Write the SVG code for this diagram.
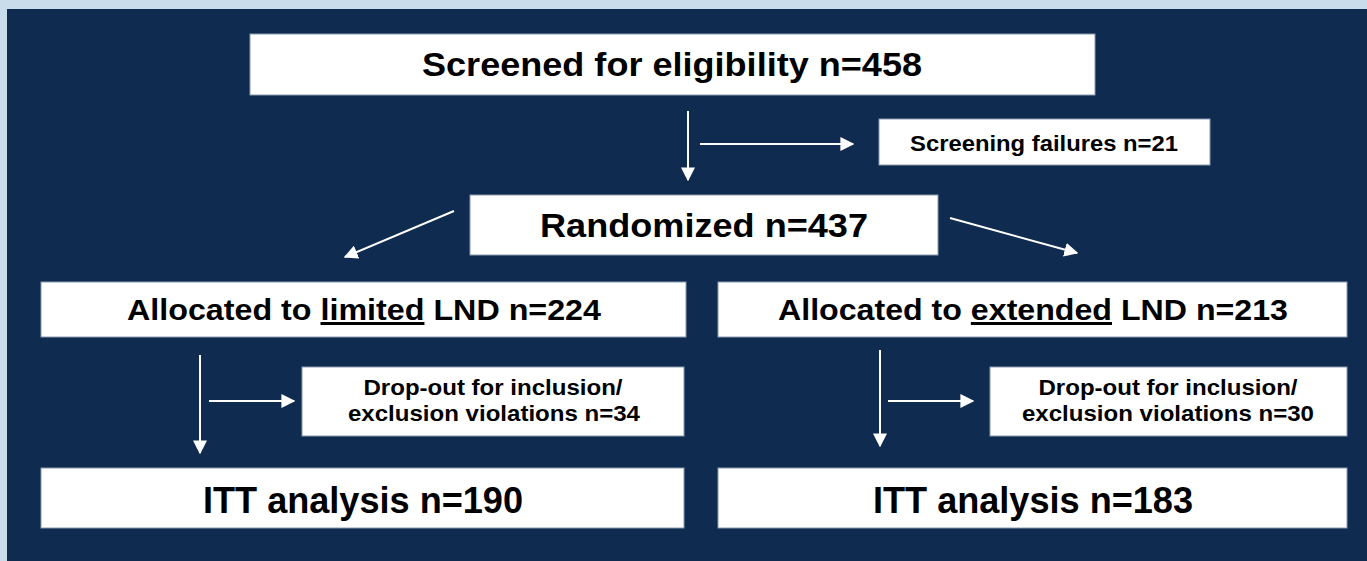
<svg xmlns="http://www.w3.org/2000/svg" width="1367" height="561" viewBox="0 0 1367 561">
<defs>
<style>
.box{fill:#ffffff;stroke:#8a9bb0;stroke-width:1}
.t{font-family:"Liberation Sans",Arial,sans-serif;font-weight:bold;fill:#000;text-anchor:middle}
.c{stroke:#ffffff;stroke-width:2;fill:none;marker-end:url(#ah)}
</style>
<marker id="ah" viewBox="0 0 10 10" refX="9" refY="5" markerWidth="14" markerHeight="14" markerUnits="userSpaceOnUse" orient="auto">
<path d="M0,0 L10,5 L0,10 z" fill="#ffffff"/>
</marker>
</defs>
<rect x="0" y="0" width="1367" height="561" fill="#c8dcec"/>
<rect x="7" y="9" width="1360" height="552" fill="#0f2b50"/>
<g id="connectors">
<line class="c" x1="688" y1="111" x2="688" y2="180"/>
<line class="c" x1="700" y1="144" x2="853" y2="144"/>
<line class="c" x1="454" y1="211" x2="345" y2="257"/>
<line class="c" x1="950" y1="218" x2="1077" y2="253"/>
<line class="c" x1="200" y1="355" x2="200" y2="453"/>
<line class="c" x1="209" y1="401" x2="294" y2="401"/>
<line class="c" x1="880" y1="350" x2="880" y2="446"/>
<line class="c" x1="888" y1="401" x2="973" y2="401"/>
</g>
<g id="screened">
<rect class="box" x="250" y="34" width="845" height="61"/>
<text class="t" x="672" y="76" font-size="34" textLength="500" lengthAdjust="spacingAndGlyphs">Screened for eligibility n=458</text>
</g>
<g id="failures">
<rect class="box" x="879" y="119" width="331" height="46"/>
<text class="t" x="1044" y="151" font-size="22" textLength="268" lengthAdjust="spacingAndGlyphs">Screening failures n=21</text>
</g>
<g id="randomized">
<rect class="box" x="470" y="195" width="468" height="60"/>
<text class="t" x="704" y="237" font-size="34" textLength="328" lengthAdjust="spacingAndGlyphs">Randomized n=437</text>
</g>
<g id="alloc-limited">
<rect class="box" x="41" y="282" width="645" height="55"/>
<text class="t" x="364" y="320" font-size="30" textLength="474" lengthAdjust="spacingAndGlyphs">Allocated to <tspan text-decoration="underline">limited</tspan> LND n=224</text>
</g>
<g id="alloc-extended">
<rect class="box" x="718" y="282" width="629" height="55"/>
<text class="t" x="1033" y="320" font-size="30" textLength="510" lengthAdjust="spacingAndGlyphs">Allocated to <tspan text-decoration="underline">extended</tspan> LND n=213</text>
</g>
<g id="dropout-left">
<rect class="box" x="302" y="367" width="382" height="69"/>
<text class="t" x="493" y="395" font-size="22" textLength="259" lengthAdjust="spacingAndGlyphs">Drop-out for inclusion/</text>
<text class="t" x="494" y="421" font-size="22" textLength="292" lengthAdjust="spacingAndGlyphs">exclusion violations n=34</text>
</g>
<g id="dropout-right">
<rect class="box" x="990" y="367" width="357" height="69"/>
<text class="t" x="1168" y="395" font-size="22" textLength="259" lengthAdjust="spacingAndGlyphs">Drop-out for inclusion/</text>
<text class="t" x="1168" y="421" font-size="22" textLength="292" lengthAdjust="spacingAndGlyphs">exclusion violations n=30</text>
</g>
<g id="itt-left">
<rect class="box" x="41" y="468" width="643" height="60"/>
<text class="t" x="363" y="513" font-size="36" textLength="320" lengthAdjust="spacingAndGlyphs">ITT analysis n=190</text>
</g>
<g id="itt-right">
<rect class="box" x="718" y="468" width="629" height="60"/>
<text class="t" x="1033" y="513" font-size="36" textLength="320" lengthAdjust="spacingAndGlyphs">ITT analysis n=183</text>
</g>
</svg>
